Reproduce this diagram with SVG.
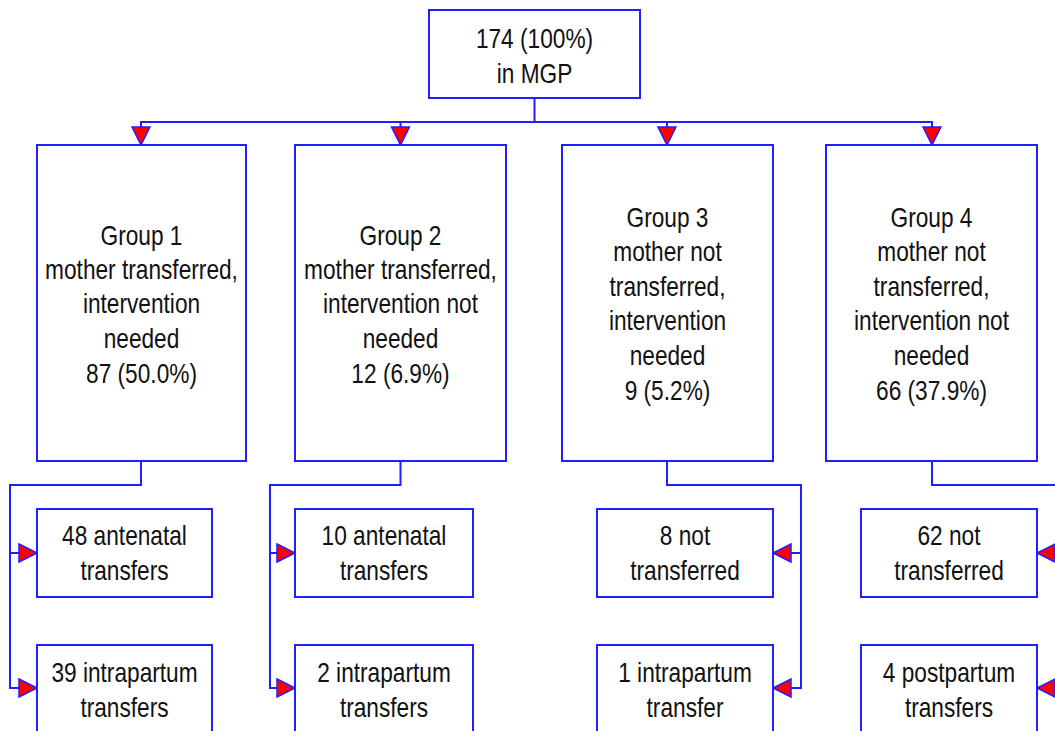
<svg xmlns="http://www.w3.org/2000/svg" width="1055" height="731" viewBox="0 0 1055 731">
<style>
.box{fill:#fff;stroke:#1f1fff;stroke-width:2}
.t{font-family:"Liberation Sans Narrow","Liberation Sans",Arial,sans-serif;font-size:28px;fill:#111;text-anchor:middle}
.c{fill:none;stroke:#1f1fff;stroke-width:2}
</style>
<defs>
<marker id="arr" viewBox="0 0 18 18" refX="18" refY="9" markerWidth="18" markerHeight="18" markerUnits="userSpaceOnUse" orient="auto" overflow="visible">
<path d="M0,0 L18,9 L0,18 Z" fill="#ff0000" stroke="#1f1fff" stroke-width="1.5"/>
</marker>
</defs>
<rect width="1055" height="731" fill="#fff"/>
<g id="connectors">
<path class="c" d="M534.5,98 V122 H141 V145" marker-end="url(#arr)"/>
<path class="c" d="M534.5,122 H400.5 V145" marker-end="url(#arr)"/>
<path class="c" d="M534.5,122 H667 V145" marker-end="url(#arr)"/>
<path class="c" d="M534.5,122 H932 V145" marker-end="url(#arr)"/>
<path class="c" d="M141,461 V485 H10 V553 H37" marker-end="url(#arr)"/>
<path class="c" d="M10,553 V688 H37" marker-end="url(#arr)"/>
<path class="c" d="M400.5,461 V485 H270 V553 H295" marker-end="url(#arr)"/>
<path class="c" d="M270,553 V688 H295" marker-end="url(#arr)"/>
<path class="c" d="M667,461 V485 H801 V553 H773" marker-end="url(#arr)"/>
<path class="c" d="M801,553 V688 H773" marker-end="url(#arr)"/>
<path class="c" d="M932,461 V485 H1065 V553 H1037" marker-end="url(#arr)"/>
<path class="c" d="M1065,553 V688 H1037" marker-end="url(#arr)"/>
</g>
<g id="root">
<rect class="box" x="429" y="10" width="211" height="88"/>
<text class="t" transform="translate(534.5,48) scale(0.81,1)">174 (100%)</text>
<text class="t" transform="translate(534.5,83) scale(0.81,1)">in MGP</text>
</g>
<g id="group1">
<rect class="box" x="37" y="145" width="209" height="316"/>
<text class="t" transform="translate(141.5,245) scale(0.81,1)">Group 1</text>
<text class="t" transform="translate(141.5,279) scale(0.81,1)">mother transferred,</text>
<text class="t" transform="translate(141.5,313) scale(0.81,1)">intervention</text>
<text class="t" transform="translate(141.5,348) scale(0.81,1)">needed</text>
<text class="t" transform="translate(141.5,383) scale(0.81,1)">87 (50.0%)</text>
</g>
<g id="group2">
<rect class="box" x="295" y="145" width="211" height="316"/>
<text class="t" transform="translate(400.5,245) scale(0.81,1)">Group 2</text>
<text class="t" transform="translate(400.5,279) scale(0.81,1)">mother transferred,</text>
<text class="t" transform="translate(400.5,313) scale(0.81,1)">intervention not</text>
<text class="t" transform="translate(400.5,348) scale(0.81,1)">needed</text>
<text class="t" transform="translate(400.5,383) scale(0.81,1)">12 (6.9%)</text>
</g>
<g id="group3">
<rect class="box" x="562" y="145" width="211" height="316"/>
<text class="t" transform="translate(667.5,227) scale(0.81,1)">Group 3</text>
<text class="t" transform="translate(667.5,261) scale(0.81,1)">mother not</text>
<text class="t" transform="translate(667.5,296) scale(0.81,1)">transferred,</text>
<text class="t" transform="translate(667.5,330) scale(0.81,1)">intervention</text>
<text class="t" transform="translate(667.5,365) scale(0.81,1)">needed</text>
<text class="t" transform="translate(667.5,400) scale(0.81,1)">9 (5.2%)</text>
</g>
<g id="group4">
<rect class="box" x="826" y="145" width="211" height="316"/>
<text class="t" transform="translate(931.5,227) scale(0.81,1)">Group 4</text>
<text class="t" transform="translate(931.5,261) scale(0.81,1)">mother not</text>
<text class="t" transform="translate(931.5,296) scale(0.81,1)">transferred,</text>
<text class="t" transform="translate(931.5,330) scale(0.81,1)">intervention not</text>
<text class="t" transform="translate(931.5,365) scale(0.81,1)">needed</text>
<text class="t" transform="translate(931.5,400) scale(0.81,1)">66 (37.9%)</text>
</g>
<g id="g1a">
<rect class="box" x="37" y="509" width="175" height="88"/>
<text class="t" transform="translate(124.5,545) scale(0.81,1)">48 antenatal</text>
<text class="t" transform="translate(124.5,580) scale(0.81,1)">transfers</text>
</g>
<g id="g1b">
<rect class="box" x="37" y="645" width="175" height="90"/>
<text class="t" transform="translate(124.5,682) scale(0.81,1)">39 intrapartum</text>
<text class="t" transform="translate(124.5,717) scale(0.81,1)">transfers</text>
</g>
<g id="g2a">
<rect class="box" x="295" y="509" width="178" height="88"/>
<text class="t" transform="translate(384,545) scale(0.81,1)">10 antenatal</text>
<text class="t" transform="translate(384,580) scale(0.81,1)">transfers</text>
</g>
<g id="g2b">
<rect class="box" x="295" y="645" width="178" height="90"/>
<text class="t" transform="translate(384,682) scale(0.81,1)">2 intrapartum</text>
<text class="t" transform="translate(384,717) scale(0.81,1)">transfers</text>
</g>
<g id="g3a">
<rect class="box" x="597" y="509" width="176" height="88"/>
<text class="t" transform="translate(685,545) scale(0.81,1)">8 not</text>
<text class="t" transform="translate(685,580) scale(0.81,1)">transferred</text>
</g>
<g id="g3b">
<rect class="box" x="597" y="645" width="176" height="90"/>
<text class="t" transform="translate(685,682) scale(0.81,1)">1 intrapartum</text>
<text class="t" transform="translate(685,717) scale(0.81,1)">transfer</text>
</g>
<g id="g4a">
<rect class="box" x="861" y="509" width="176" height="88"/>
<text class="t" transform="translate(949,545) scale(0.81,1)">62 not</text>
<text class="t" transform="translate(949,580) scale(0.81,1)">transferred</text>
</g>
<g id="g4b">
<rect class="box" x="861" y="645" width="176" height="90"/>
<text class="t" transform="translate(949,682) scale(0.81,1)">4 postpartum</text>
<text class="t" transform="translate(949,717) scale(0.81,1)">transfers</text>
</g>
</svg>
